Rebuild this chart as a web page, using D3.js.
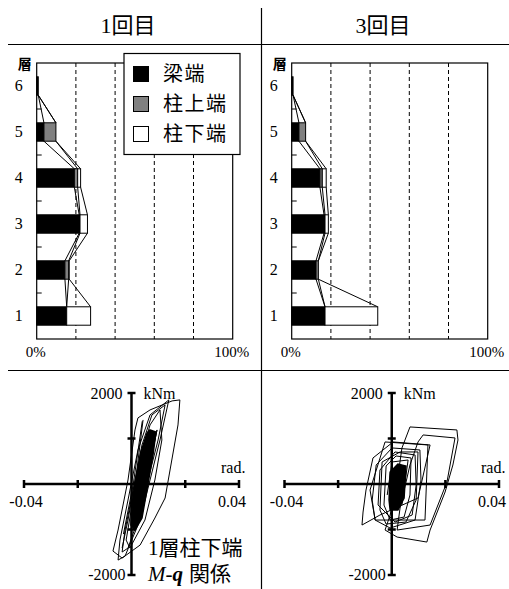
<!DOCTYPE html>
<html>
<head>
<meta charset="utf-8">
<script src="https://cdn.jsdelivr.net/npm/d3@7/dist/d3.min.js"></script>
<style>
body{margin:0;background:#fff;}
svg text{font-family:"Liberation Serif","Times New Roman","Noto Sans CJK JP",serif;fill:#000;}
.jp{font-family:"Noto Sans CJK JP",sans-serif;}
</style>
</head>
<body>
<div id="chart"></div>
<script>
// floors, bottom to top
var floors = [1, 2, 3, 4, 5, 6];
var seriesKeys = ["beam", "colTop", "colBot"];
var seriesNames = ["梁端", "柱上端", "柱下端"];
var seriesColors = ["#000000", "#808080", "#ffffff"];
var panelTitles = ["1回目", "3回目"];

// share of plastic rotation per floor (%)
var beam1 = [15.3, 14.4, 21.7, 19.2, 3.7, 0.8];
var colTop1 = [0, 1.9, 0.4, 1.7, 6.1, 0];
var colBot1 = [12.2, 0.3, 3.8, 1.5, 0, 0];
var beam3 = [17.0, 12.4, 16.5, 14.4, 3.7, 0.7];
var colTop3 = [0, 1.2, 0.5, 1.2, 3.4, 0];
var colBot3 = [26.9, 0, 1.7, 2.0, 0, 0];
var pctLabels = [0, 100];
var pctGrid = [20, 40, 60, 80];

// 1F column bottom M-theta loops (rad, kNm)
var thetaTicks = [-0.04, -0.02, 0.02, 0.04];
var momentTicks = [-2000, -1000, 1000, 2000];
var loops1 = [
  [[0.0180,1848],[0.0173,1298],[0.0125,-308],[0.0087,-748],[0.0032,-1342],[-0.0035,-1628],[-0.0069,-1474],[-0.0050,-1012],[-0.0013,88],[0.0013,1188],[0.0024,1452],[0.0069,1628],[0.0151,1826]],
  [[0.0139,1848],[0.0106,968],[0.0069,88],[0.0032,-792],[-0.0024,-1584],[-0.0050,-1672],[-0.0043,-1232],[-0.0013,-352],[0.0024,748],[0.0069,1518]],
  [[0.0125,1738],[0.0099,968],[0.0061,88],[0.0024,-792],[-0.0013,-1408],[-0.0035,-1496],[-0.0024,-1012],[0.0006,-132],[0.0039,858],[0.0076,1518]],
  [[0.0106,1628],[0.0113,968],[0.0087,88],[0.0050,-792],[-0.0006,-1408],[-0.0020,-1232],[0.0002,-462],[0.0032,528],[0.0069,1298]],
  [[0.0095,1188],[0.0069,418],[0.0035,-462],[0.0013,-1012],[0.0020,-792],[0.0050,-22],[0.0080,792]],
  [[0.0040,1380],[0.0006,-22],[-0.0030,-1100]],
  [[0.0043,1408],[0.0020,308],[-0.0013,-792],[-0.0035,-1408]]
];
var core1 = [[0.0069,1188],[0.0091,1144],[0.0080,638],[0.0054,-242],[0.0039,-748],[0.0013,-1012],[-0.0002,-902],[0.0006,-242],[0.0035,704],[0.0058,1122]];
var loops3 = [
  [[0.0068,1254],[0.0243,1188],[0.0247,968],[0.0228,418],[0.0199,-176],[0.0143,-1012],[0.0131,-1276],[0.0020,-1166],[-0.0025,-1012],[-0.0006,-682],[0.0020,44],[0.0038,792]],
  [[0.0117,1078],[0.0236,1012],[0.0206,44],[0.0143,-902],[0.0020,-1012],[0.0031,-528],[0.0068,418],[0.0098,924]],
  [[-0.0070,572],[0.0005,924],[0.0143,858],[0.0098,-308],[-0.0044,-682],[-0.0111,-902],[-0.0107,-616],[-0.0096,-132]],
  [[-0.0025,924],[0.0135,858],[0.0124,-792],[-0.0062,-792],[-0.0081,-132]],
  [[-0.0073,-352],[-0.0058,418],[0.0001,792],[0.0105,748],[0.0109,88],[0.0087,-792],[-0.0006,-968],[-0.0062,-792]],
  [[-0.0051,-462],[-0.0044,308],[0.0012,704],[0.0087,638],[0.0091,-22],[0.0076,-682],[0.0012,-836]],
  [[-0.0029,-462],[-0.0021,396],[0.0016,616],[0.0072,572],[0.0068,-242],[0.0046,-726],[-0.0006,-792]],
  [[-0.0044,-572],[-0.0036,484],[0.0031,704],[0.0098,704],[0.0091,-352],[0.0053,-836],[-0.0021,-880]],
  [[-0.0017,-242],[0.0001,484],[0.0061,528],[0.0038,-462]]
];
var core3 = [[-0.0010,-352],[-0.0006,264],[0.0023,440],[0.0053,396],[0.0046,-308],[0.0023,-572],[-0.0006,-572]];

var W = 509, H = 589;
var svg = d3.select("#chart").append("svg").attr("width", W).attr("height", H);

// panel frame lines
svg.append("line").attr("x1", 8).attr("x2", W).attr("y1", 44.5).attr("y2", 44.5).style("stroke", "#000").style("stroke-width", 1.2);
svg.append("line").attr("x1", 8).attr("x2", W).attr("y1", 370.5).attr("y2", 370.5).style("stroke", "#000").style("stroke-width", 1.2);
svg.append("line").attr("x1", 261.5).attr("x2", 261.5).attr("y1", 8).attr("y2", H).style("stroke", "#000").style("stroke-width", 1.2);

svg.selectAll(".title").data(panelTitles).enter().append("text")
  .attr("class", "title")
  .attr("x", function(d, i){ return i == 0 ? 128 : 383; })
  .attr("y", 33)
  .attr("text-anchor", "middle")
  .style("font-size", "22px")
  .text(function(d){ return d; });

function renderBars(left, beam, colTop, colBot){
  var x = d3.scaleLinear().domain([0, 100]).range([left, left + 196]);
  var y = d3.scaleBand().domain(floors.slice().reverse()).range([63, 339]).paddingInner(0.6).paddingOuter(0.3);
  var g = svg.append("g");

  g.selectAll(".grid").data(pctGrid).enter().append("line")
    .attr("x1", function(d){ return x(d); }).attr("x2", function(d){ return x(d); })
    .attr("y1", 63).attr("y2", 339)
    .style("stroke", "#000").style("stroke-dasharray", "4,3");

  g.append("rect").attr("x", x(0)).attr("y", 63).attr("width", x(100) - x(0)).attr("height", 276)
    .style("fill", "none").style("stroke", "#000").style("stroke-width", 1.2);

  // boundary ticks between floors
  g.selectAll(".ytick").data(floors.slice(1)).enter().append("line")
    .attr("x1", x(0)).attr("x2", x(0) + 5)
    .attr("y1", function(d){ return y(d) + y.bandwidth() / 2 + y.step() / 2; })
    .attr("y2", function(d){ return y(d) + y.bandwidth() / 2 + y.step() / 2; })
    .style("stroke", "#000");

  var rows = floors.map(function(f, i){ return {floor: f, beam: beam[i], colTop: colTop[i], colBot: colBot[i]}; });
  var stacked = d3.stack().keys(seriesKeys)(rows);

  // series lines between adjacent floors
  stacked.forEach(function(s){
    for (var i = 0; i < s.length - 1; i++){
      g.append("line")
        .attr("x1", x(s[i][1])).attr("y1", y(floors[i]))
        .attr("x2", x(s[i + 1][1])).attr("y2", y(floors[i + 1]) + y.bandwidth())
        .style("stroke", "#000").style("stroke-width", 1);
    }
  });

  stacked.forEach(function(s, k){
    g.selectAll(".bar" + k).data(s.filter(function(d){ return d[1] - d[0] > 0; })).enter().append("rect")
      .attr("x", function(d){ return x(d[0]); })
      .attr("y", function(d){ return y(d.data.floor); })
      .attr("width", function(d){ return x(d[1]) - x(d[0]); })
      .attr("height", y.bandwidth())
      .style("fill", seriesColors[k]).style("stroke", "#000").style("stroke-width", 1);
  });

  g.selectAll(".flabel").data(floors).enter().append("text")
    .attr("x", left - 14).attr("y", function(d){ return y(d) + y.bandwidth() / 2 + 5; })
    .attr("text-anchor", "end").style("font-size", "16px")
    .text(function(d){ return d; });

  g.selectAll(".plabel").data(pctLabels).enter().append("text")
    .attr("x", function(d){ return x(d) - 1; }).attr("y", 357)
    .attr("text-anchor", "middle").style("font-size", "15px")
    .text(function(d){ return d + "%"; });

  g.append("text").attr("class", "jp").attr("x", left - 12).attr("y", 69)
    .attr("text-anchor", "middle").style("font-size", "14px").style("font-weight", "bold").text("層");
}

renderBars(36.7, beam1, colTop1, colBot1);
renderBars(291.7, beam3, colTop3, colBot3);

// legend
var legend = svg.append("g");
legend.append("rect").attr("x", 124).attr("y", 53.5).attr("width", 116).attr("height", 101)
  .style("fill", "#fff").style("stroke", "#000").style("stroke-width", 1.2);
seriesNames.forEach(function(name, i){
  legend.append("rect").attr("x", 133.5).attr("y", 66.5 + i * 30).attr("width", 15).attr("height", 15)
    .style("fill", seriesColors[i]).style("stroke", "#000").style("stroke-width", 1);
  legend.append("text").attr("class", "jp").attr("x", 163).attr("y", 81 + i * 30)
    .style("font-size", "20px").style("letter-spacing", "1.5px").text(name);
});

function renderLoops(xRange, loops, core){
  var x = d3.scaleLinear().domain([-0.04, 0.04]).range(xRange);
  var y = d3.scaleLinear().domain([-2000, 2000]).range([575, 393]);
  var g = svg.append("g");
  var line = d3.line().x(function(d){ return x(d[0]); }).y(function(d){ return y(d[1]); });

  g.append("path").attr("d", line.curve(d3.curveLinearClosed)(core))
    .style("fill", "#000").style("stroke", "#000").style("stroke-width", 1.5);
  loops.forEach(function(l, i){
    var c = l.length > 4 ? d3.curveLinearClosed : d3.curveLinear;
    g.append("path").attr("d", line.curve(c)(l))
      .style("fill", "none").style("stroke", "#000").style("stroke-width", 1);
  });

  g.append("line").attr("x1", x(-0.04)).attr("x2", x(0.04)).attr("y1", y(0)).attr("y2", y(0))
    .style("stroke", "#000").style("stroke-width", 2.5);
  g.append("line").attr("x1", x(0)).attr("x2", x(0)).attr("y1", y(-2000)).attr("y2", y(2000))
    .style("stroke", "#000").style("stroke-width", 2.5);
  g.selectAll(".xt").data(thetaTicks).enter().append("line")
    .attr("x1", function(d){ return x(d); }).attr("x2", function(d){ return x(d); })
    .attr("y1", y(0) - 4).attr("y2", y(0) + 4)
    .style("stroke", "#000").style("stroke-width", 2.5);
  g.selectAll(".yt").data(momentTicks).enter().append("line")
    .attr("x1", x(0) - 4).attr("x2", x(0) + 4)
    .attr("y1", function(d){ return y(d); }).attr("y2", function(d){ return y(d); })
    .style("stroke", "#000").style("stroke-width", 2.5);

  g.append("text").attr("x", x(-0.04) + 2).attr("y", y(0) + 23).attr("text-anchor", "middle").style("font-size", "16px").text("-0.04");
  g.append("text").attr("x", x(0.04) - 7).attr("y", y(0) + 23).attr("text-anchor", "middle").style("font-size", "16px").text("0.04");
  g.append("text").attr("x", x(0.04) - 18).attr("y", y(0) - 11).style("font-size", "16px").text("rad.");
  g.append("text").attr("x", x(0) - 9).attr("y", y(2000) + 6).attr("text-anchor", "end").style("font-size", "16px").text("2000");
  g.append("text").attr("x", x(0) - 6).attr("y", y(-2000) + 5).attr("text-anchor", "end").style("font-size", "16px").text("-2000");
  g.append("text").attr("x", x(0) + 12).attr("y", y(2000) + 6).style("font-size", "16px").text("kNm");
}

renderLoops([24, 239], loops1, core1);
renderLoops([284.5, 499], loops3, core3);

var cap = svg.append("g");
cap.append("text").attr("x", 148).attr("y", 555).style("font-size", "21px").text("1層柱下端");
var cap2 = cap.append("text").attr("x", 148).attr("y", 581).style("font-size", "21px");
cap2.append("tspan").style("font-style", "italic").text("M");
cap2.append("tspan").text("-");
cap2.append("tspan").style("font-style", "italic").style("font-weight", "bold").text("q");
cap2.append("tspan").attr("dx", 6).text("関係");
</script>
</body>
</html>
